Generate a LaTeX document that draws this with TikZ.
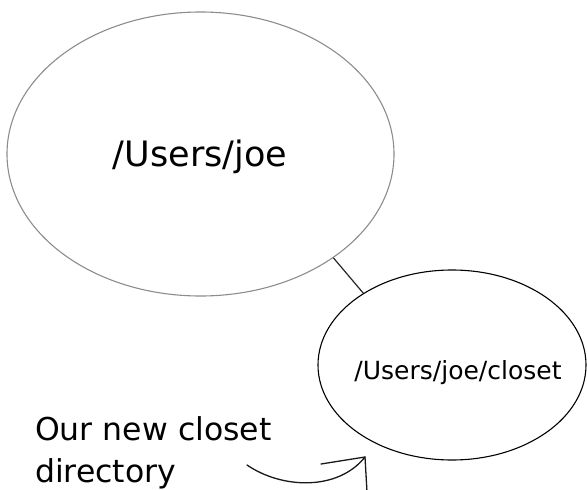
\documentclass[tikz,border=0pt]{standalone}
\usepackage{fontspec}
\setmainfont{DejaVu Sans}
\usetikzlibrary{shapes.geometric}
\begin{document}
\begin{tikzpicture}[x=1pt,y=-1pt,
  bigdir/.style={ellipse,draw=black!45,line width=1.1pt,inner sep=0pt,
     minimum width=387pt,minimum height=284pt},
  smalldir/.style={ellipse,draw=black,line width=1.1pt,inner sep=0pt,
     minimum width=268pt,minimum height=190pt},
  bigtext/.style={inner sep=0pt,anchor=base,font=\fontsize{35}{40}\selectfont},
  smalltext/.style={inner sep=0pt,anchor=base,font=\fontsize{25}{30}\selectfont},
  link/.style={draw=black!85,line width=1.2pt},
  note/.style={align=left,inner sep=0pt,anchor=base west,font=\fontsize{31.5}{42}\selectfont},
  pointer/.style={draw=black!90,line width=1.3pt,line cap=round}]
\useasboundingbox (0,0) rectangle (587,490);
\node[bigdir] (joe) at (200.5,154) {};
\node[bigtext] (joetext) at (200,166) {/Users/joe};
\node[smalldir] (closet) at (452,365) {};
\node[smalltext] (closettext) at (458,379) {/Users/joe/closet};
\draw[link] (joe.-38.6) -- (closet.141);
\node[note] (label) at (35,482) {Our new closet\\directory};
\coordinate (arrstart) at (247,465);
\coordinate (arrtip) at (365,457);
\coordinate (wingA) at (321,464);
\coordinate (wingB) at (367,492);
\draw[pointer] (arrstart) .. controls (282,489) and (338,491) .. (arrtip);
\draw[pointer] (wingA) -- (arrtip) -- (wingB);
\end{tikzpicture}
\end{document}
